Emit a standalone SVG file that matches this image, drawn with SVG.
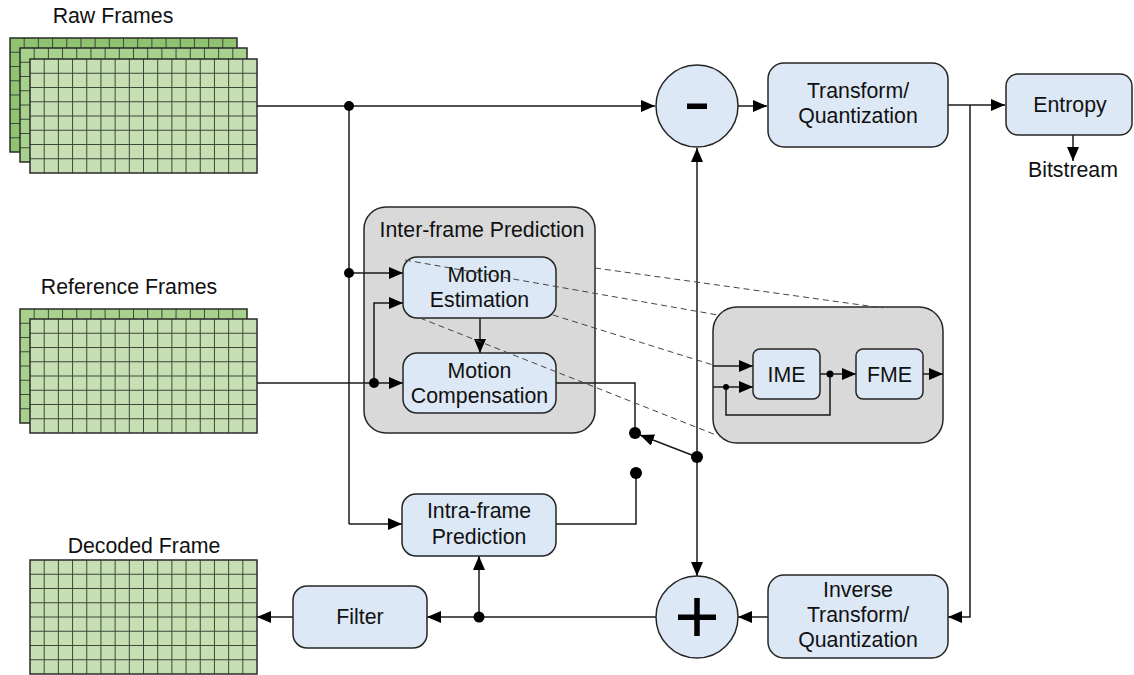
<svg xmlns="http://www.w3.org/2000/svg" xmlns:xlink="http://www.w3.org/1999/xlink" width="1134" height="675" viewBox="0 0 1134 675">
<style>
text{font-family:"Liberation Sans",Arial,sans-serif;font-size:21.3px;fill:#111;text-anchor:middle}
.node{fill:#dce8f5;stroke:#262626;stroke-width:1.5}
.group{fill:#d9d9d9;stroke:#262626;stroke-width:1.5}
.ln{fill:none;stroke:#1a1a1a;stroke-width:1.5}
.arr{marker-end:url(#ah)}
.dot{fill:#000}
.dash{fill:none;stroke:#444;stroke-width:1;stroke-dasharray:6 4}
.gl{fill:none;stroke:#3d4a38;stroke-width:1}
.fo{fill:none;stroke:#2a2a2a;stroke-width:1.5}
.f1{fill:#8fc370}
.f2{fill:#a9d18e}
.f3{fill:#c6e0b4}
</style>
<defs>
<marker id="ah" markerUnits="userSpaceOnUse" markerWidth="15" markerHeight="13" refX="14" refY="6" orient="auto">
<path d="M0,0 L14,6 L0,12 z" fill="#000"/>
</marker>
<path id="grid" class="gl" d="M14.19 0V114M28.38 0V114M42.56 0V114M56.75 0V114M70.94 0V114M85.13 0V114M99.31 0V114M113.5 0V114M127.69 0V114M141.88 0V114M156.06 0V114M170.25 0V114M184.44 0V114M198.63 0V114M212.81 0V114M0 14.25H227M0 28.5H227M0 42.75H227M0 57H227M0 71.25H227M0 85.5H227M0 99.75H227"/>
</defs>

<g id="raw-frames">
<g transform="translate(10,38)"><rect class="f1" width="227" height="114"/><use href="#grid"/><rect class="fo" width="227" height="114"/></g>
<g transform="translate(20,48)"><rect class="f2" width="227" height="114"/><use href="#grid"/><rect class="fo" width="227" height="114"/></g>
<g transform="translate(30,59)"><rect class="f3" width="227" height="114"/><use href="#grid"/><rect class="fo" width="227" height="114"/></g>
<text x="113" y="23">Raw Frames</text>
</g>

<g id="reference-frames">
<g transform="translate(20,309)"><rect class="f2" width="227" height="114"/><use href="#grid"/><rect class="fo" width="227" height="114"/></g>
<g transform="translate(30,319)"><rect class="f3" width="227" height="114"/><use href="#grid"/><rect class="fo" width="227" height="114"/></g>
<text x="129" y="294">Reference Frames</text>
</g>

<g id="decoded-frame">
<g transform="translate(30,560)"><rect class="f3" width="227" height="114"/><use href="#grid"/><rect class="fo" width="227" height="114"/></g>
<text x="144" y="553">Decoded Frame</text>
</g>

<g id="inter-frame-prediction">
<rect class="group" x="364" y="207" width="231" height="226" rx="22"/>
<text x="482" y="237">Inter-frame Prediction</text>
</g>

<g id="me-detail">
<rect class="group" x="713" y="307" width="230" height="136" rx="24"/>
</g>

<g id="connectors">
<path class="ln arr" d="M257 106H655"/>
<path class="ln arr" d="M738 106H767"/>
<path class="ln arr" d="M948 105H1005"/>
<path class="ln arr" d="M1073 135V161"/>
<path class="ln arr" d="M970 105V617H948"/>
<path class="ln arr" d="M697 457V148"/>
<path class="ln arr" d="M697 457V576"/>
<path class="ln" d="M349 106V524"/>
<path class="ln arr" d="M349 524H402"/>
<path class="ln arr" d="M349 273H403"/>
<path class="ln arr" d="M257 383H403"/>
<path class="ln arr" d="M374 383V303H403"/>
<path class="ln arr" d="M480 318V353"/>
<path class="ln" d="M556 383H635V433"/>
<path class="ln arr" d="M697 457L640 435"/>
<path class="ln" d="M636 473V524H556"/>
<path class="ln arr" d="M768 617H738"/>
<path class="ln arr" d="M656 617H427"/>
<path class="ln arr" d="M479 617V556"/>
<path class="ln arr" d="M293 617H257"/>
<path class="ln arr" d="M713 366H753"/>
<path class="ln arr" d="M713 387H753"/>
<path class="ln" d="M726 387V415H830V374"/>
<path class="ln arr" d="M820 374H856"/>
<path class="ln arr" d="M923 374H943"/>
<circle class="dot" cx="349" cy="106" r="5"/>
<circle class="dot" cx="349" cy="273" r="5"/>
<circle class="dot" cx="374" cy="383" r="5"/>
<circle class="dot" cx="635" cy="433" r="6"/>
<circle class="dot" cx="697" cy="457" r="6"/>
<circle class="dot" cx="636" cy="473" r="6"/>
<circle class="dot" cx="479" cy="617" r="5.5"/>
<circle class="dot" cx="726" cy="387" r="3"/>
<circle class="dot" cx="830" cy="374" r="3.5"/>
</g>

<g id="subtract">
<circle class="node" cx="697" cy="106" r="41"/>
<rect x="687" y="103.5" width="20" height="5.5" fill="#000"/>
</g>

<g id="add">
<circle class="node" cx="697" cy="617" r="41"/>
<rect x="678" y="614.5" width="38" height="5.5" fill="#000"/>
<rect x="694.25" y="598" width="5.5" height="38" fill="#000"/>
</g>

<g id="transform-quantization">
<rect class="node" x="768" y="63" width="180" height="84" rx="16"/>
<text x="858" y="98">Transform/</text>
<text x="858" y="123">Quantization</text>
</g>

<g id="entropy">
<rect class="node" x="1006" y="74" width="126" height="61" rx="12"/>
<text x="1070" y="112">Entropy</text>
<text x="1073" y="177">Bitstream</text>
</g>

<g id="motion-estimation">
<rect class="node" x="403" y="257" width="153" height="61" rx="14"/>
<text x="479.5" y="282">Motion</text>
<text x="479.5" y="307">Estimation</text>
</g>

<g id="motion-compensation">
<rect class="node" x="403" y="353" width="153" height="60" rx="14"/>
<text x="479.5" y="378">Motion</text>
<text x="479.5" y="403">Compensation</text>
</g>

<g id="intra-frame-prediction">
<rect class="node" x="402" y="494" width="154" height="62" rx="14"/>
<text x="479" y="518">Intra-frame</text>
<text x="479" y="544">Prediction</text>
</g>

<g id="filter">
<rect class="node" x="293" y="586" width="134" height="62" rx="14"/>
<text x="360" y="624">Filter</text>
</g>

<g id="inverse-transform">
<rect class="node" x="768" y="575" width="180" height="83" rx="16"/>
<text x="858" y="597">Inverse</text>
<text x="858" y="622">Transform/</text>
<text x="858" y="647">Quantization</text>
</g>

<g id="ime">
<rect class="node" x="753" y="349" width="67" height="50" rx="7"/>
<text x="786.5" y="381.5">IME</text>
</g>

<g id="fme">
<rect class="node" x="856" y="349" width="67" height="50" rx="7"/>
<text x="889.5" y="381.5">FME</text>
</g>

<g id="zoom-lines">
<path class="dash" d="M405 260L718 315"/>
<path class="dash" d="M595 268L883 308"/>
<path class="dash" d="M553 315L713 365"/>
<path class="dash" d="M420 318L716 435"/>
</g>
</svg>
